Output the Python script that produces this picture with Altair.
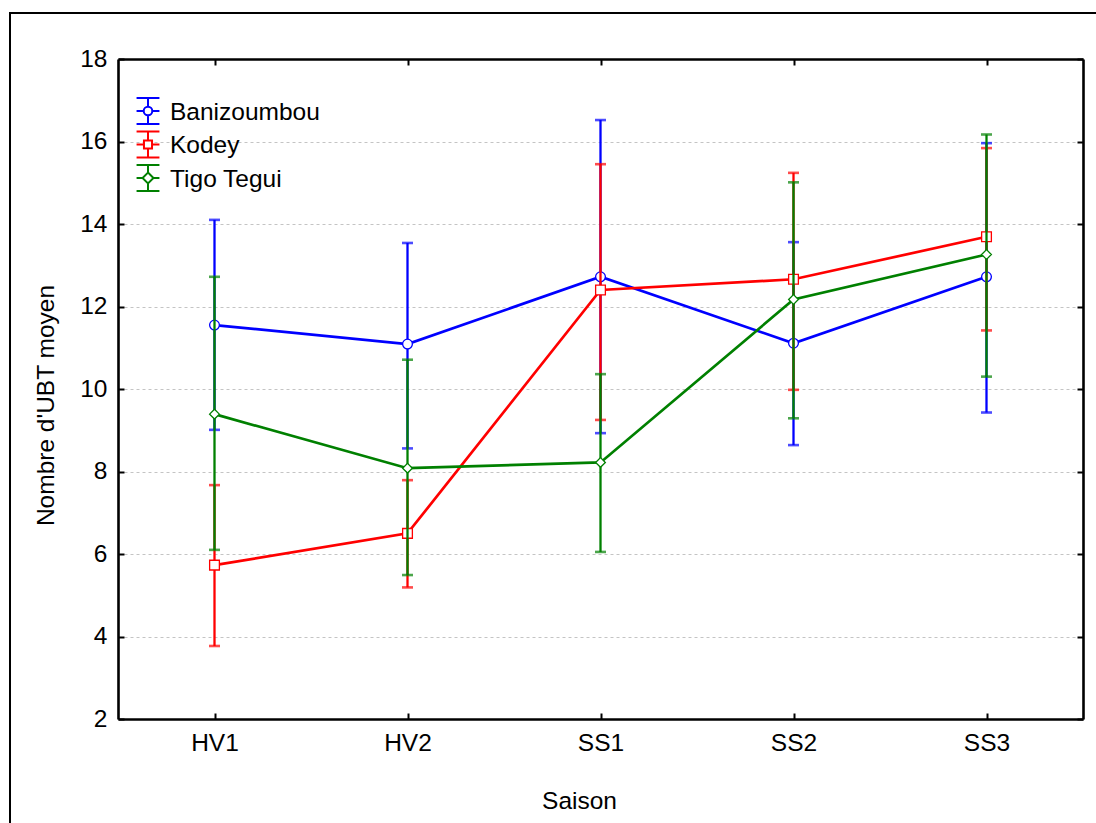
import altair as alt
import pandas as pd

saisons = ["HV1", "HV2", "SS1", "SS2", "SS3"]
sites = ["Banizoumbou", "Kodey", "Tigo Tegui"]
couleurs = ["#0000ff", "#ff0000", "#008000"]
formes = ["circle", "square", "diamond"]
graduations = [2, 4, 6, 8, 10, 12, 14, 16, 18]
lignes_grille = [4, 6, 8, 10, 12, 14, 16]

# Moyennes et bornes des barres d'erreur, par site
banizoumbou_moy = [11.55, 11.09, 12.72, 11.11, 12.72]
banizoumbou_bas = [9.01, 8.56, 8.93, 8.64, 9.43]
banizoumbou_haut = [14.10, 13.54, 16.52, 13.56, 15.96]

kodey_moy = [5.73, 6.50, 12.40, 12.66, 13.69]
kodey_bas = [3.77, 5.19, 9.25, 9.98, 11.42]
kodey_haut = [7.67, 7.79, 15.45, 15.24, 15.84]

tigo_moy = [9.39, 8.08, 8.22, 12.17, 13.26]
tigo_bas = [6.10, 5.49, 6.05, 9.29, 10.30]
tigo_haut = [12.72, 10.71, 10.36, 15.01, 16.17]

series = {
    "Banizoumbou": (banizoumbou_moy, banizoumbou_bas, banizoumbou_haut),
    "Kodey": (kodey_moy, kodey_bas, kodey_haut),
    "Tigo Tegui": (tigo_moy, tigo_bas, tigo_haut),
}

rows = []
for site, (moy, bas, haut) in series.items():
    for s, m, b, h in zip(saisons, moy, bas, haut):
        rows.append({"site": site, "saison": s, "moy": m, "bas": b, "haut": h})
df = pd.DataFrame(rows)

W, H = 965, 660
FONT = "Liberation Sans"
FS = 24.5
FRAME = 2.6

xscale = alt.Scale(type="point", domain=saisons, padding=0.5)
yscale = alt.Scale(domain=[2, 18], nice=False, zero=False)
cscale = alt.Scale(domain=sites, range=couleurs)

# Legend symbols: error bar with caps, line stub and the series marker
circ = "M0.33,0A0.33,0.33,0,1,1,-0.33,0A0.33,0.33,0,1,1,0.33,0Z"
sq = "M-0.31,-0.31H0.31V0.31H-0.31Z"
dia = "M0,-0.42L0.42,0L0,0.42L-0.42,0Z"
beam_c = "M-0.88,-1H0.88M-0.88,1H0.88M0,-1V-0.33M0,0.33V1M-0.88,0H-0.33M0.33,0H0.88"
beam_s = "M-0.88,-1H0.88M-0.88,1H0.88M0,-1V-0.31M0,0.31V1M-0.88,0H-0.31M0.31,0H0.88"
beam_d = "M-0.88,-1H0.88M-0.88,1H0.88M0,-1V-0.42M0,0.42V1M-0.88,0H-0.42M0.42,0H0.88"
symboles = [beam_c + circ, beam_s + sq, beam_d + dia]


def xenc(axis=None):
    if axis is None:
        return alt.X("saison:N", sort=saisons, scale=xscale, axis=None)
    return alt.X("saison:N", sort=saisons, scale=xscale, axis=axis)


def yenc(field, axis=None):
    if axis is None:
        return alt.Y(f"{field}:Q", scale=yscale, axis=None)
    return alt.Y(f"{field}:Q", scale=yscale, axis=axis)


def cenc():
    return alt.Color("site:N", scale=cscale, legend=None)


base = alt.Chart(df)

# Dashed horizontal grid
grille = base.mark_point(opacity=0).encode(
    x=xenc(),
    y=yenc("moy", alt.Axis(orient="left", values=lignes_grille, labels=False,
                           ticks=False, domain=False, grid=True, gridDash=[3, 3],
                           gridColor="#c4c4c4", gridWidth=1, title="")),
)

# Main axes: labels, titles, left and bottom frame lines
axes_main = base.mark_point(opacity=0).encode(
    x=xenc(alt.Axis(orient="bottom", ticks=False, domain=True, domainColor="black",
                    domainWidth=FRAME, grid=False, labelFont=FONT,
                    labelFontSize=FS, labelColor="black", labelPadding=12, labelAngle=0,
                    title="Saison", titleFont=FONT, titleFontSize=FS,
                    titleFontWeight="normal", titleColor="black",
                    titleX=461, titleY=89, titleAlign="center",
                    titleBaseline="alphabetic")),
    y=yenc("moy", alt.Axis(orient="left", values=graduations, ticks=False, domain=True,
                           domainColor="black", domainWidth=FRAME,
                           labelFont=FONT, labelFontSize=FS, labelColor="black",
                           labelPadding=11, grid=False,
                           title="Nombre d'UBT moyen", titleFont=FONT,
                           titleFontSize=FS, titleFontWeight="normal",
                           titleColor="black", titleAngle=-90, titleX=-65, titleY=346,
                           titleAlign="center", titleBaseline="alphabetic")),
)

# Top frame line with inward ticks, and inward ticks on the left edge
ticks_a = base.mark_point(opacity=0).encode(
    x=xenc(alt.Axis(orient="bottom", offset=-H, labels=False, domain=True,
                    domainColor="black", domainWidth=FRAME, grid=False,
                    tickSize=6, tickWidth=2, tickColor="black", title="")),
    y=yenc("moy", alt.Axis(orient="right", offset=-W, values=graduations, labels=False,
                           domain=False, grid=False, tickSize=6, tickWidth=2,
                           tickColor="black", title="")),
)
# Right frame line with inward ticks, and inward ticks on the bottom edge
ticks_b = base.mark_point(opacity=0).encode(
    x=xenc(alt.Axis(orient="top", offset=-H, labels=False, domain=False, grid=False,
                    tickSize=6, tickWidth=2, tickColor="black", title="")),
    y=yenc("moy", alt.Axis(orient="left", offset=-W, values=graduations, labels=False,
                           domain=True, domainColor="black", domainWidth=FRAME,
                           grid=False, tickSize=6, tickWidth=2,
                           tickColor="black", title="")),
)

layers = [grille, axes_main, ticks_a, ticks_b]
for site, forme in zip(sites, formes):
    part = base.transform_filter(alt.datum.site == site)
    bars = part.mark_rule(strokeWidth=2.3).encode(
        x=xenc(), y=yenc("bas"), y2="haut:Q", color=cenc())
    cap_lo = part.mark_tick(size=11, thickness=2.6).encode(
        x=xenc(), y=yenc("bas"), color=cenc())
    cap_hi = part.mark_tick(size=11, thickness=2.6).encode(
        x=xenc(), y=yenc("haut"), color=cenc())
    line = part.mark_line(strokeWidth=2.7).encode(
        x=xenc(), y=yenc("moy"), color=cenc())
    pts = part.mark_point(shape=forme, size=95, filled=False, fill="white",
                          strokeWidth=1.3, opacity=1).encode(
        x=xenc(), y=yenc("moy"), color=cenc())
    layers += [bars, cap_lo, cap_hi, line, pts]

# Legend block in the upper left corner of the plot
un = pd.DataFrame({"k": [0]})
for i, (site, coul, sym) in enumerate(zip(sites, couleurs, symboles)):
    yc = 52 + 33.5 * i
    layers.append(alt.Chart(un).mark_point(
        shape=sym, size=676, filled=False, fill="white", stroke=coul,
        strokeWidth=2, opacity=1
    ).encode(x=alt.value(30), y=alt.value(yc)))
    layers.append(alt.Chart(un).mark_text(
        align="left", baseline="alphabetic", font=FONT, fontSize=FS, color="black"
    ).encode(x=alt.value(52), y=alt.value(yc + 8.8), text=alt.value(site)))

# Outer frame around the figure
frame = alt.Chart(un).mark_rect(
    fill="transparent", stroke="black", strokeWidth=2
).encode(x=alt.value(-108), x2=alt.value(1300), y=alt.value(-46), y2=alt.value(900))
layers.append(frame)

chart = alt.layer(*layers).resolve_axis(x="independent", y="independent").properties(
    width=W, height=H,
    autosize=alt.AutoSizeParams(type="none"),
    padding={"left": 118, "top": 59, "right": 13, "bottom": 104},
    background="white",
).configure_view(stroke="transparent").configure(font=FONT)

chart.save("out.html", embed_options={"renderer": "svg", "actions": False})
